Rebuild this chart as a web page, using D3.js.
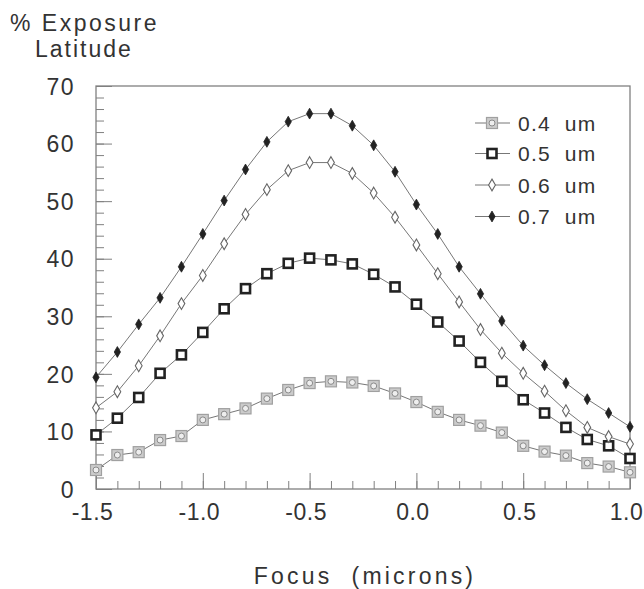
<!DOCTYPE html>
<html><head><meta charset="utf-8">
<script src="https://cdn.jsdelivr.net/npm/d3@7"></script>
<style>
html,body{margin:0;padding:0;background:#fff;}
text{font-family:"Liberation Sans",Arial,Helvetica,sans-serif;fill:#333;white-space:pre;}
</style></head>
<body>
<svg id="chart" width="644" height="589"></svg>
<script>
const focus = [-1.5,-1.4,-1.3,-1.2,-1.1,-1.0,-0.9,-0.8,-0.7,-0.6,-0.5,-0.4,-0.3,-0.2,-0.1,0.0,0.1,0.2,0.3,0.4,0.5,0.6,0.7,0.8,0.9,1.0];
const s04 = [3.3,5.9,6.4,8.5,9.2,12.0,13.0,14.0,15.7,17.2,18.4,18.7,18.5,17.9,16.6,15.1,13.4,12.0,11.0,9.8,7.5,6.5,5.8,4.5,3.9,2.9];
const s05 = [9.4,12.3,15.9,20.1,23.3,27.2,31.3,34.8,37.4,39.2,40.1,39.8,39.1,37.3,35.1,32.1,29.0,25.7,22.0,18.7,15.5,13.2,10.7,8.6,7.5,5.3];
const s06 = [14.1,16.9,21.4,26.6,32.2,37.1,42.6,47.7,52.0,55.3,56.7,56.7,54.8,51.4,47.2,42.4,37.4,32.5,27.7,23.6,20.1,17.0,13.6,10.7,9.1,7.8];
const s07 = [19.4,23.8,28.6,33.2,38.6,44.3,50.1,55.5,60.3,63.8,65.2,65.2,63.1,59.7,55.1,49.4,44.3,38.6,33.9,29.2,24.9,21.5,18.4,15.6,13.2,10.8];
const seriesNames = ["0.4  um","0.5  um","0.6  um","0.7  um"];
const xMajor = [-1.5,-1.0,-0.5,0.0,0.5,1.0];
const xMinor = d3.range(-15,11).map(i=>i/10);
const yMajor = [0,10,20,30,40,50,60,70];
const yMinor = d3.range(0,71,2);
const yTitle = ["% Exposure","Latitude"];
const xTitle = "Focus  (microns)";

const svg = d3.select("#chart");
const L=96,R=630,T=86,B=489;
const x = d3.scaleLinear().domain([-1.5,1.0]).range([L,R]);
const y = d3.scaleLinear().domain([0,70]).range([B,T]);

const axisColor="#808080";
// minor ticks
const gxm = svg.append("g").attr("transform",`translate(0,${B})`)
  .call(d3.axisBottom(x).tickValues(xMinor).tickSize(-8).tickFormat(""));
const gym = svg.append("g").attr("transform",`translate(${L},0)`)
  .call(d3.axisLeft(y).tickValues(yMinor).tickSize(-8).tickFormat(""));
// major ticks
const gx = svg.append("g").attr("transform",`translate(0,${B})`)
  .call(d3.axisBottom(x).tickValues(xMajor).tickSize(-16).tickFormat(d=>d.toFixed(1)));
const gy = svg.append("g").attr("transform",`translate(${L},0)`)
  .call(d3.axisLeft(y).tickValues(yMajor).tickSize(-16).tickFormat(d=>String(d)));
[gxm,gym,gx,gy].forEach(g=>{
  g.select(".domain").remove();
  g.selectAll(".tick line").attr("stroke",axisColor).attr("stroke-width",1);
});
gx.selectAll(".tick text").attr("y",31).attr("dy",null).attr("dx",-4)
  .style("font-size","23px").style("letter-spacing","0.5px").attr("fill","#333");
gy.selectAll(".tick text").attr("x",-21).attr("dy","0.36em")
  .style("font-size","23px").style("letter-spacing","1.5px").attr("fill","#333");

// frame
svg.append("rect").attr("x",L).attr("y",T).attr("width",R-L).attr("height",B-T)
  .attr("fill","none").attr("stroke",axisColor).attr("stroke-width",1.3);

// titles
svg.append("text").attr("x",10).attr("y",31).style("font-size","23px").style("letter-spacing","2.5px").text(yTitle[0]);
svg.append("text").attr("x",35).attr("y",57).style("font-size","23px").style("letter-spacing","2px").text(yTitle[1]);
svg.append("text").attr("x",365).attr("y",584).attr("text-anchor","middle")
  .style("font-size","23px").style("letter-spacing","3.2px").text(xTitle);

// markers
function drawMarker(g, type){
  if(type===0){
    g.append("rect").attr("x",-5.5).attr("y",-5.5).attr("width",11).attr("height",11)
      .attr("fill","#cbcbcb").attr("stroke","#a0a0a0").attr("stroke-width",1.2);
    g.append("circle").attr("r",3).attr("fill","#eee").attr("stroke","#8a8a8a").attr("stroke-width",1);
  } else if(type===1){
    g.append("rect").attr("x",-4.5).attr("y",-4.5).attr("width",9).attr("height",9)
      .attr("fill","#fff").attr("stroke","#222").attr("stroke-width",2.6);
  } else if(type===2){
    g.append("path").attr("d",d3.symbol(d3.symbolDiamond,40)())
      .attr("fill","#fff").attr("stroke","#666").attr("stroke-width",1.1);
  } else {
    g.append("path").attr("d",d3.symbol(d3.symbolDiamond,34)())
      .attr("fill","#222").attr("stroke","#222").attr("stroke-width",0.8);
  }
}

const allSeries=[s04,s05,s06,s07];
const line = d3.line().x(d=>x(d[0])).y(d=>y(d[1]));
allSeries.forEach((s,i)=>{
  const pts = focus.map((f,j)=>[f,s[j]]);
  svg.append("path").attr("d",line(pts)).attr("fill","none")
    .attr("stroke","#777").attr("stroke-width",1);
});
allSeries.forEach((s,i)=>{
  focus.forEach((f,j)=>{
    const g = svg.append("g").attr("transform",`translate(${x(f)},${y(s[j])})`);
    drawMarker(g,i);
  });
});

// legend
const legY=[123,153.5,185,216.5];
seriesNames.forEach((n,i)=>{
  svg.append("line").attr("x1",475).attr("x2",510).attr("y1",legY[i]).attr("y2",legY[i])
    .attr("stroke","#777").attr("stroke-width",1);
  const g = svg.append("g").attr("transform",`translate(492,${legY[i]})`);
  drawMarker(g,i);
  svg.append("text").attr("x",518).attr("y",legY[i]+7.5).style("font-size","21px")
    .style("letter-spacing","1.2px").text(n);
});
</script>
</body></html>
